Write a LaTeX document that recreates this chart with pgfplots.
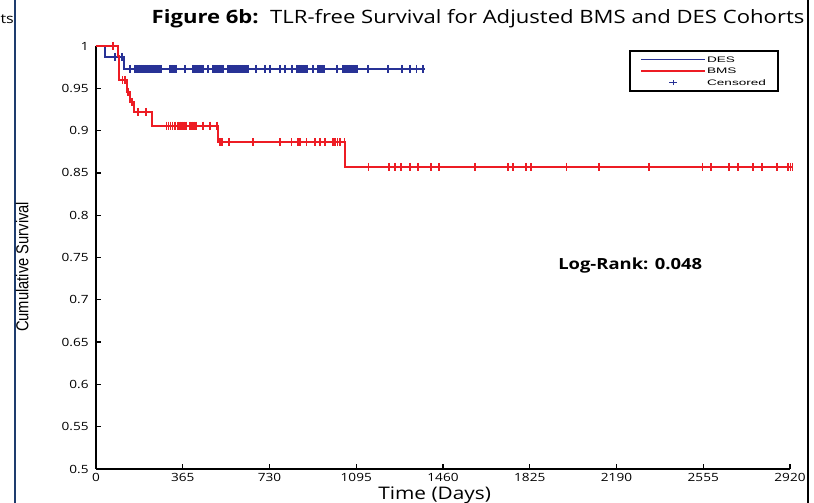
\documentclass[border=0pt]{standalone}
\usepackage{fontspec}
\setmainfont[FakeStretch=1.2]{Open Sans}
\newfontfamily\narrowfont[FakeStretch=0.85]{Liberation Sans}
\newfontfamily\legfont[FakeStretch=1.7]{Liberation Sans}
\usepackage{pgfplots}
\pgfplotsset{compat=1.18}
\definecolor{desblue}{RGB}{40,50,150}
\definecolor{bmsred}{RGB}{237,28,36}
\definecolor{framebl}{RGB}{30,60,110}
\begin{document}
\begin{tikzpicture}[x=1pt,y=1pt]
\path[use as bounding box] (-72pt,-25.5pt) rectangle (538.5pt,351.75pt);
% page frame lines
\draw[framebl,line width=2.2pt] (-60.75pt,-30pt) -- (-60.75pt,360pt);
\draw[black,line width=1.5pt] (534pt,-30pt) -- (534pt,360pt);
\node[anchor=base west,font=\fontsize{10}{12}\selectfont,inner sep=0pt] at (-71.8pt,333.75pt) {ts};
\node[anchor=base,font=\fontsize{13.8}{16}\selectfont,inner sep=0pt] at (286.5pt,333.75pt) {\textbf{Figure 6b:}\ \ TLR-free Survival for Adjusted BMS and DES Cohorts};
\begin{axis}[
  scale only axis,
  width=520.5pt, height=317.25pt,
  at={(0pt,0pt)}, anchor=south west,
  xmin=0, xmax=2920, ymin=0.5, ymax=1,
  axis lines*=left,
  axis line style={line width=1.2pt, black},
  clip=false,
  tick align=inside,
  major tick length=3.5pt,
  tick style={line width=1pt, black},
  xtick={0,365,730,1095,1460,1825,2190,2555,2920},
  xticklabels={0,365,730,1095,1460,1825,2190,2555,2920},
  ytick={0.5,0.55,0.6,0.65,0.7,0.75,0.8,0.85,0.9,0.95,1},
  yticklabels={0.5,0.55,0.6,0.65,0.7,0.75,0.8,0.85,0.9,0.95,1},
  ticklabel style={font=\fontsize{8.5}{10}\selectfont},
  xticklabel style={yshift=-2pt, inner ysep=1pt},
  yticklabel style={xshift=-2pt},
  /pgf/number format/assume math mode=true,
  xlabel={Time (Days)},
  xlabel style={at={(rel axis cs:0.488,0)}, anchor=center, yshift=-20pt, inner sep=0pt, font=\fontsize{13}{15}\selectfont},
  ylabel={Cumulative Survival},
  ylabel style={at={(rel axis cs:-0.1065,0.478)}, anchor=center, rotate=0, font=\narrowfont\fontsize{13}{15}\selectfont},
  legend style={at={(rel axis cs:0.984,0.99)}, anchor=north east, draw=black, line width=1.3pt,
    font=\legfont\fontsize{6}{7}\selectfont, inner xsep=8pt, inner ysep=3pt,
    nodes={inner sep=1pt, text height=4.5pt, text depth=0.5pt},
    row sep=1.5pt, fill=white},
  legend cell align=left,
]
% DES step curve
\addplot[desblue, line width=1.5pt, const plot, forget plot] coordinates {
 (0,1) (36,0.987) (118,0.973) (1384,0.973)
};
% BMS step curve
\addplot[bmsred, line width=1.5pt, const plot, forget plot] coordinates {
 (0,1) (92,0.988) (98,0.960) (130,0.946) (143,0.934) (161,0.922) (234,0.906) (514,0.886) (1048,0.857) (2932,0.857)
};
% DES censored
\addplot[desblue, only marks, mark=|, mark size=3pt, mark options={line width=1.3pt}, forget plot] coordinates {
 (80,0.987) (110,0.987)
 (143,0.973) (164,0.973) (172,0.973) (180,0.973) (189,0.973) (197,0.973) (206,0.973) (214,0.973) (222,0.973) (231,0.973) (239,0.973) (248,0.973) (256,0.973) (264,0.973) (273,0.973)
 (311,0.973) (320,0.973) (329,0.973) (337,0.973) (374,0.973)
 (408,0.973) (416,0.973) (425,0.973) (433,0.973) (442,0.973) (450,0.973) (471,0.973)
 (492,0.973) (501,0.973) (509,0.973) (517,0.973) (526,0.973) (534,0.973)
 (555,0.973) (564,0.973) (572,0.973) (580,0.973) (589,0.973) (597,0.973) (606,0.973) (614,0.973) (622,0.973) (631,0.973) (639,0.973)
 (673,0.973) (711,0.973) (732,0.973) (774,0.973) (795,0.973) (825,0.973)
 (846,0.973) (854,0.973) (863,0.973) (871,0.973) (880,0.973) (888,0.973) (913,0.973)
 (934,0.973) (942,0.973) (951,0.973) (959,0.973) (1014,0.973)
 (1039,0.973) (1048,0.973) (1056,0.973) (1065,0.973) (1073,0.973) (1081,0.973) (1090,0.973) (1098,0.973)
 (1144,0.973) (1228,0.973) (1287,0.973) (1321,0.973) (1349,0.973) (1377,0.973)
};
% BMS censored
\addplot[bmsred, only marks, mark=|, mark size=3pt, mark options={line width=1.3pt}, forget plot] coordinates {
 (70,1) (112,0.960) (122,0.960) (136,0.946) (150,0.934) (178,0.922) (210,0.922)
 (297,0.906) (305,0.906) (314,0.906) (322,0.906) (331,0.906)
 (346,0.906) (354,0.906) (363,0.906) (371,0.906) (380,0.906)
 (395,0.906) (403,0.906) (412,0.906) (420,0.906) (451,0.906) (480,0.906) (508,0.906)
 (522,0.886) (530,0.886) (561,0.886) (662,0.886) (774,0.886) (823,0.886) (851,0.886) (858,0.886) (886,0.886)
 (921,0.886) (942,0.886) (963,0.886) (998,0.886) (1007,0.886) (1016,0.886) (1026,0.886) (1045,0.886)
 (1146,0.857) (1234,0.857) (1258,0.857) (1282,0.857) (1321,0.857) (1356,0.857) (1408,0.857) (1444,0.857)
 (1594,0.857) (1732,0.857) (1756,0.857) (1809,0.857) (1830,0.857) (1980,0.857) (2117,0.857) (2328,0.857)
 (2552,0.857) (2587,0.857) (2664,0.857) (2702,0.857) (2765,0.857) (2803,0.857) (2866,0.857) (2912,0.857) (2922,0.857) (2930,0.857)
};
\addlegendimage{legend image code/.code={\draw[desblue,line width=0.9pt] (0pt,0pt) -- (48pt,0pt);}}
\addlegendentry{DES}
\addlegendimage{legend image code/.code={\draw[bmsred,line width=0.9pt] (0pt,0pt) -- (48pt,0pt);}}
\addlegendentry{BMS}
\addlegendimage{legend image code/.code={\draw[desblue,line width=0.9pt] (21pt,0pt) -- (27pt,0pt) (24pt,-2pt) -- (24pt,2pt);}}
\addlegendentry{Censored}
\node[anchor=west, font=\bfseries\fontsize{11.5}{13}\selectfont, inner sep=0pt] at (axis cs:1944,0.741) {Log-Rank: 0.048};
\end{axis}
\end{tikzpicture}
\end{document}
